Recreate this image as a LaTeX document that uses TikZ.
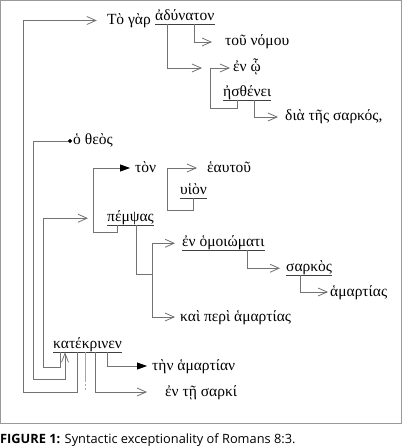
\documentclass[tikz,border=0pt]{standalone}
\usepackage{fontspec}
\setmainfont{Liberation Serif}
\newfontfamily\capfont{Open Sans}
\usetikzlibrary{positioning,arrows.meta}
\tikzset{
  word/.style={inner sep=0pt, anchor=base west, text height=10pt, text depth=2pt, font=\fontsize{15.5}{18}\selectfont},
  uword/.style={word, text depth=3.5pt, append after command={(\tikzlastnode.south west) edge[uline] (\tikzlastnode.south east)}},
  uline/.style={draw=black!75, line width=0.6pt},
  link/.style={draw=black!55, line width=0.8pt},
  openarr/.style={link, -{Straight Barb[length=9pt,width=8pt]}},
  fillarr/.style={link, -{Triangle[length=10pt,width=7pt,color=black]}},
  dotarr/.style={link, {Circle[length=4pt,color=black]}-{Straight Barb[length=9pt,width=7pt]}, shorten <=1pt},
  stub/.style={draw=black!35, line width=0.8pt},
  gap/.style={shorten >=#1}
}

\begin{document}
\begin{tikzpicture}[x=1pt, y=-1pt]
  \useasboundingbox (0,0) rectangle (403,446);
  \draw[black!40, line width=0.8pt] (0.5,0.5) rectangle (401.5,423.5);

  \node[uword] (adyn) at (155,20.5) {ἀδύνατον};
  \node[word, anchor=base east, left=4pt of adyn.base west] (togar) {Τὸ γὰρ};
  \node[word] (nomou) at (225,46) {τοῦ νόμου};
  \node[word] (enho) at (233,72) {ἐν ᾧ};
  \node[uword] (esth) at (223,96.5) {ἠσθένει};
  \node[word] (dia) at (285,121) {διὰ τῆς σαρκός,};
  \node[word] (theos) at (73,145) {ὁ θεὸς};
  \node[word] (ton) at (135,172) {τὸν};
  \node[word] (heautou) at (207,172) {ἑαυτοῦ};
  \node[uword] (huion) at (180,194.5) {υἱὸν};
  \node[uword] (pempsas) at (107,221.5) {πέμψας};
  \node[uword] (homoi) at (182,246.5) {ἐν ὁμοιώματι};
  \node[uword] (sarkos) at (286,271.5) {σαρκὸς};
  \node[word] (hamart) at (330,296) {ἁμαρτίας};
  \node[word] (peri) at (180,321) {καὶ περὶ ἁμαρτίας};
  \node[uword] (katek) at (53,348.5) {κατέκρινεν};
  \node[word] (tenham) at (152,370) {τὴν ἁμαρτίαν};
  \node[word] (ensarki) at (165,396) {ἐν τῇ σαρκί};

  \coordinate (trunkA) at (23,392);
  \coordinate (trunkB) at (33,379);
  \coordinate (trunkC) at (43,367);
  \coordinate (ellip) at (85,392);
  \coordinate (relcl) at (210,68);
  \coordinate (relbot) at (210,108);
  \coordinate (tonbr) at (93,232);
  \coordinate (heabr) at (167,210);
  \coordinate (prepbr) at (152,274);

  \draw[openarr, gap=10pt] ([xshift=24pt]katek.south west) |- (trunkA) |- (togar.west);
  \draw[dotarr] (theos.west) -| (trunkB) -| ([xshift=12pt]katek.south west);
  \draw[openarr, gap=19pt] ([xshift=7pt]katek.south west) |- (trunkC) |- (pempsas.west);
  \draw[stub, dash pattern=on 30pt off 2pt on 2pt off 2pt on 2pt off 2pt] ([xshift=32pt]katek.south west) -- (ellip);
  \draw[openarr, gap=18pt] ([xshift=42pt]katek.south west) |- (ensarki.west);
  \draw[fillarr, gap=5pt] ([xshift=54pt]katek.south west) |- (tenham.west);

  \draw[fillarr, gap=5pt] ([xshift=10pt]pempsas.south west) |- (tonbr) |- (ton.west);
  \draw[openarr, gap=10pt] ([xshift=13pt]huion.south west) |- (heabr) |- (heautou.west);
  \draw[link] ([xshift=29pt]pempsas.south west) |- (prepbr);
  \draw[openarr, gap=7pt] (prepbr) |- (homoi.west);
  \draw[openarr, gap=5pt] (prepbr) |- (peri.west);
  \draw[openarr, gap=6pt] ([xshift=65pt]homoi.south west) |- (sarkos.west);
  \draw[openarr, gap=2pt] ([xshift=14pt]sarkos.south west) |- (hamart.west);

  \draw[openarr, gap=13pt] ([xshift=39pt]adyn.south west) |- (nomou.west);
  \draw[openarr, gap=8pt] ([xshift=12pt]adyn.south west) |- (relcl);
  \draw[openarr, gap=3pt] ([xshift=14pt]esth.south west) |- (relbot) |- (enho.west);
  \draw[openarr, gap=7pt] ([xshift=31pt]esth.south west) |- (dia.west);

  \node[anchor=base west, inner sep=0pt, font=\capfont\fontsize{12.8}{15}\selectfont] (caption) at (0,443) {\textbf{FIGURE 1:} Syntactic exceptionality of Romans 8:3.};
\end{tikzpicture}
\end{document}
